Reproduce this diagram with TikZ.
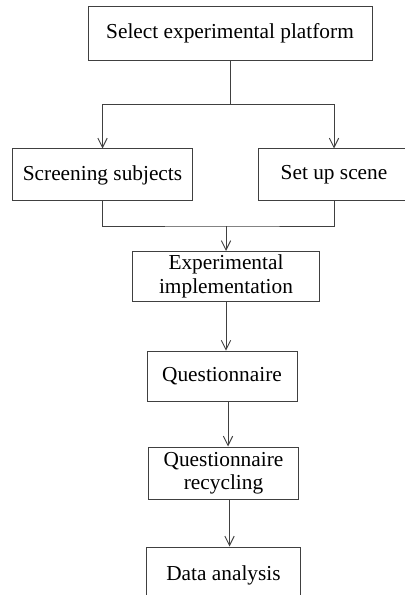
\documentclass[tikz,border=0pt]{standalone}
\usepackage{fontspec}
\setmainfont{Liberation Serif}
\usepackage{tikz}
\usetikzlibrary{arrows.meta}

\tikzset{
    stage/.style={draw=black!75, line width=0.75pt, align=center, inner sep=0pt,
        font=\fontsize{16}{17.5}\selectfont},
    flow/.style={draw=black!75, line width=0.7pt},
    tip/.style={-{Straight Barb[length=7pt, width=7pt]}}
}

\begin{document}
\begin{tikzpicture}[x=0.75pt, y=-0.75pt]
    \useasboundingbox (0,0) rectangle (404,595);

    % Boxes
    \node[stage, minimum width=213pt, minimum height=41pt] (plat) at (230,33.5) {Select experimental platform};
    \node[stage, minimum width=135pt, minimum height=39pt] (screen) at (102.5,175) {Screening subjects};
    \node[stage, minimum width=114pt, minimum height=39pt] (scene) at (334,175) {Set up scene};
    \node[stage, minimum width=140pt, minimum height=37.5pt] (impl) at (226,276.5) {Experimental\\implementation};
    \node[stage, minimum width=112.5pt, minimum height=38pt] (quest) at (222,376.5) {Questionnaire};
    \node[stage, minimum width=113pt, minimum height=39pt] (recyc) at (223.5,473) {Questionnaire\\recycling};
    \node[stage, minimum width=115pt, minimum height=42pt] (data) at (223.5,575) {Data analysis};

    % Split and merge points
    \coordinate (split) at (230,104);
    \coordinate (join) at (226,226);

    % Connectors
    \draw[flow] (plat.south) -- (split);
    \draw[flow, tip] (split) -| (screen.north);
    \draw[flow, tip] (split) -| (scene.north);
    \draw[flow] (screen.south) |- (join) -| (scene.south);
    \draw[flow, tip] (join) -- (impl.north);
    \draw[flow, tip] (impl.south) -- (impl.south |- quest.north);
    \draw[flow, tip] ([xshift=4.5pt]quest.south) -- ([xshift=4.5pt]quest.south |- recyc.north);
    \draw[flow, tip] ([xshift=4.5pt]recyc.south) -- ([xshift=4.5pt]recyc.south |- data.north);
\end{tikzpicture}
\end{document}
